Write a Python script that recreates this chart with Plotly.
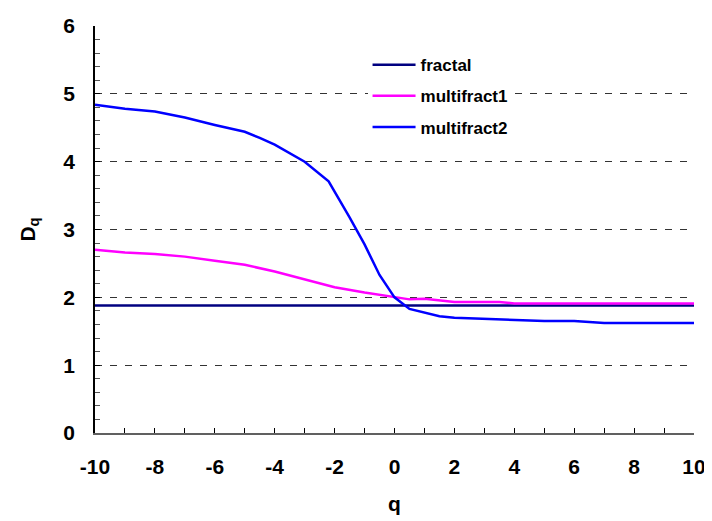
import plotly.graph_objects as go

q_fractal = [-10, 10]
d_fractal = [1.88, 1.88]

q_m1 = [-10, -9, -8, -7, -6, -5, -4, -3, -2, -1, 0, 0.5, 1, 2, 3, 3.5, 4, 5, 6, 7, 8, 9, 10]
d_m1 = [2.70, 2.66, 2.64, 2.60, 2.54, 2.48, 2.38, 2.27, 2.15, 2.07, 2.00, 1.97, 1.98, 1.93, 1.93, 1.93, 1.91, 1.91, 1.91, 1.91, 1.91, 1.91, 1.91]

q_m2 = [-10, -9, -8, -7, -6, -5, -4.5, -4, -3, -2.2, -1.5, -1, -0.5, 0, 0.5, 1, 1.5, 2, 2.5, 3, 4, 5, 6, 6.5, 7, 8, 9, 10]
d_m2 = [4.84, 4.78, 4.74, 4.65, 4.54, 4.44, 4.35, 4.25, 4.00, 3.71, 3.18, 2.78, 2.33, 2.00, 1.83, 1.78, 1.72, 1.70, 1.69, 1.68, 1.67, 1.65, 1.65, 1.64, 1.62, 1.62, 1.62, 1.62]

x_ticks = [-10, -8, -6, -4, -2, 0, 2, 4, 6, 8, 10]
y_ticks = [0, 1, 2, 3, 4, 5, 6]

FONT = "Arial, Liberation Sans, sans-serif"

fig = go.Figure()
fig.add_trace(go.Scatter(x=q_fractal, y=d_fractal, mode="lines", name="fractal",
                         line=dict(color="#000080", width=2.5), legendgroup="a"))
fig.add_trace(go.Scatter(x=q_m1, y=d_m1, mode="lines", name="multifract1",
                         line=dict(color="#FF00FF", width=2.5), legendgroup="b"))
fig.add_trace(go.Scatter(x=q_m2, y=d_m2, mode="lines", name="multifract2",
                         line=dict(color="#0000FF", width=2.5), legendgroup="c"))

fig.update_layout(
    width=712, height=521,
    margin=dict(l=87, r=26, t=18, b=96),
    plot_bgcolor="white", paper_bgcolor="white",
    font=dict(family=FONT, color="black"),
    showlegend=True,
    legend=dict(x=0.455, y=0.948, xanchor="left", yanchor="top",
                bgcolor="white", tracegroupgap=6, itemwidth=43,
                font=dict(size=17, family=FONT, weight="bold")),
    xaxis=dict(range=[-10, 10], tickvals=x_ticks, ticktext=[str(v) for v in x_ticks],
               automargin=False,
               showgrid=False, zeroline=False,
               showline=True, linecolor="#606060", linewidth=1.5,
               ticks="inside", ticklen=5, tickcolor="black", tickwidth=1,
               minor=dict(dtick=1, ticks="inside", ticklen=5, tickcolor="black", showgrid=False),
               tickfont=dict(size=21, family=FONT, weight="bold"),
               ticklabelstandoff=14,
               title=dict(text="<b>q</b>", font=dict(size=21, family=FONT), standoff=19)),
    yaxis=dict(range=[0, 6], tickvals=y_ticks, ticktext=[str(v) for v in y_ticks],
               automargin=False,
               showgrid=True, gridcolor="#333333", griddash="7px,8px", gridwidth=1,
               zeroline=False,
               showline=True, linecolor="black", linewidth=1.5,
               ticks="inside", ticklen=5, tickcolor="black", tickwidth=1,
               minor=dict(dtick=0.2, ticks="inside", ticklen=5, tickcolor="#555555", showgrid=False),
               tickfont=dict(size=21, family=FONT, weight="bold"),
               ticklabelstandoff=14,
               title=dict(text="<b>D<sub>q</sub></b>", font=dict(size=21, family=FONT), standoff=22)),
)

fig.write_html("out.html")
